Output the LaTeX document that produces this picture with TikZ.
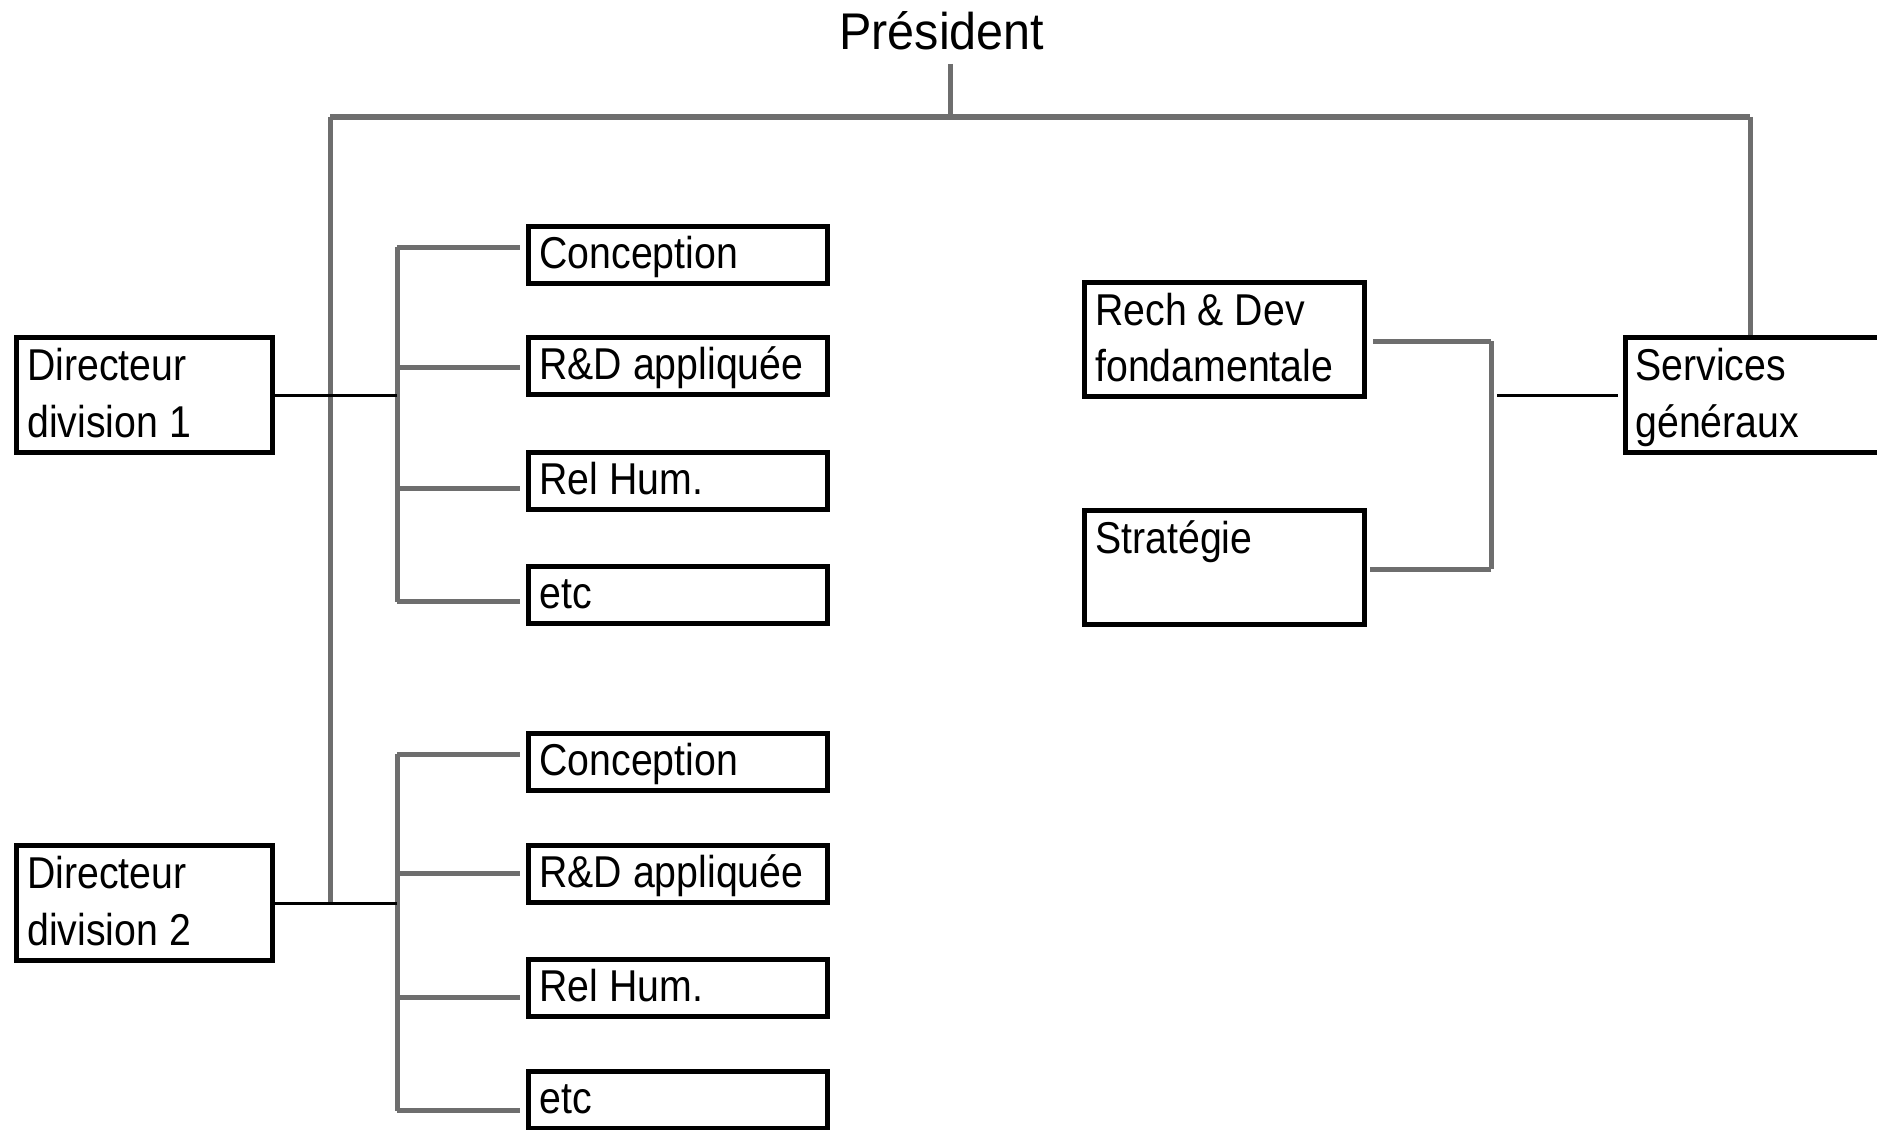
\documentclass[tikz,border=0pt]{standalone}
\usepackage{fontspec}
\newfontfamily\boxfont[FakeStretch=0.88]{Liberation Sans}
\newfontfamily\presfont[FakeStretch=0.94]{Liberation Sans}
\usetikzlibrary{calc}
\definecolor{linegray}{RGB}{110,110,110}
\begin{document}
\begin{tikzpicture}[x=0.5pt,y=-0.5pt,
  box/.style={draw=black, line width=2.5pt, inner sep=0pt, anchor=north west,
              minimum width=149.5pt, minimum height=28.5pt},
  bigbox/.style={box, minimum width=128pt, minimum height=57.5pt},
  lbl/.style={anchor=base west, inner sep=0pt, font=\boxfont\fontsize{22.3pt}{28.5pt}\selectfont},
  glink/.style={draw=linegray, line width=2.5pt},
  blink/.style={draw=black, line width=1.5pt}]
\fill[white] (0,0) rectangle (1877,1129);
\useasboundingbox (0,0) rectangle (1877,1129);

% President
\node[anchor=base west, inner sep=0pt, font=\presfont\fontsize{25.8pt}{30pt}\selectfont] (pres) at (839,50) {Président};
\coordinate (pstem) at (950,64);
\coordinate (pj) at (950,117);
\coordinate (tl) at (330,117);
\coordinate (tr) at (1750,117);

% Directors
\node[bigbox] (d1) at (14,335) {};
\node[lbl] (d1a) at (27,380) {Directeur};
\node[lbl] (d1b) at (27,437) {division 1};
\node[bigbox] (d2) at (14,843) {};
\node[lbl] (d2a) at (27,888) {Directeur};
\node[lbl] (d2b) at (27,945) {division 2};

% Group 1
\node[box] (c1) at (526,224) {};
\node[lbl] (c1t) at (539,268) {Conception};
\node[box] (r1) at (526,335) {};
\node[lbl] (r1t) at (539,379) {R\&D appliquée};
\node[box] (h1) at (526,450) {};
\node[lbl] (h1t) at (539,494) {Rel Hum.};
\node[box] (e1) at (526,564) {};
\node[lbl] (e1t) at (539,608) {etc};

% Group 2
\node[box] (c2) at (526,731) {};
\node[lbl] (c2t) at (539,775) {Conception};
\node[box] (r2) at (526,843) {};
\node[lbl] (r2t) at (539,887) {R\&D appliquée};
\node[box] (h2) at (526,957) {};
\node[lbl] (h2t) at (539,1001) {Rel Hum.};
\node[box] (e2) at (526,1069) {};
\node[lbl] (e2t) at (539,1113) {etc};

% Right side
\node[box, minimum width=140pt, minimum height=57pt] (rd) at (1082,280) {};
\node[lbl] (rdt1) at (1095,325) {Rech \& Dev};
\node[lbl] (rdt2) at (1095,381) {fondamentale};
\node[box, minimum width=140pt, minimum height=57pt] (st) at (1082,508) {};
\node[lbl] (stt) at (1095,553) {Stratégie};
\node[box, minimum width=200pt, minimum height=57.5pt] (sg) at (1623,335) {};
\node[lbl] (sgt1) at (1635,380) {Services};
\node[lbl] (sgt2) at (1635,437) {généraux};

% Coordinates for branch points
\coordinate (s1t) at (397,247);
\coordinate (s1b) at (397,602);
\coordinate (s2t) at (397,754);
\coordinate (s2b) at (397,1111);
\coordinate (bt) at (1491,341);
\coordinate (bb) at (1491,569);
\coordinate (sj) at (1497,395);

% Gray links
\draw[glink] (pstem) -- (pj);
\draw[glink] (tl) -- (tr);
\draw[glink] (tl) -- (tl |- d2.east);
\draw[glink] (tr) -- (tr |- sg.north);
\draw[glink] (s1t) -- (s1b);
\draw[glink] (s2t) -- (s2b);
\foreach \b/\y in {c1/247, r1/367, h1/488, e1/601, c2/754, r2/873, h2/997, e2/1110}{
  \draw[glink, shorten >=3pt] (397,\y) -- (\b.west |- 0,\y);
}
\draw[glink, shorten <=3pt] (rd.east |- bt) -- (bt);
\draw[glink] (bt) -- (bb);
\draw[glink, shorten >=1.5pt] (bb) -- (st.east |- bb);

% Black links
\draw[blink] (d1.east) -- (d1.east -| s1t);
\draw[blink] (d2.east) -- (d2.east -| s2t);
\draw[blink, shorten >=2.5pt] (sj) -- (sj -| sg.west);
\end{tikzpicture}
\end{document}
